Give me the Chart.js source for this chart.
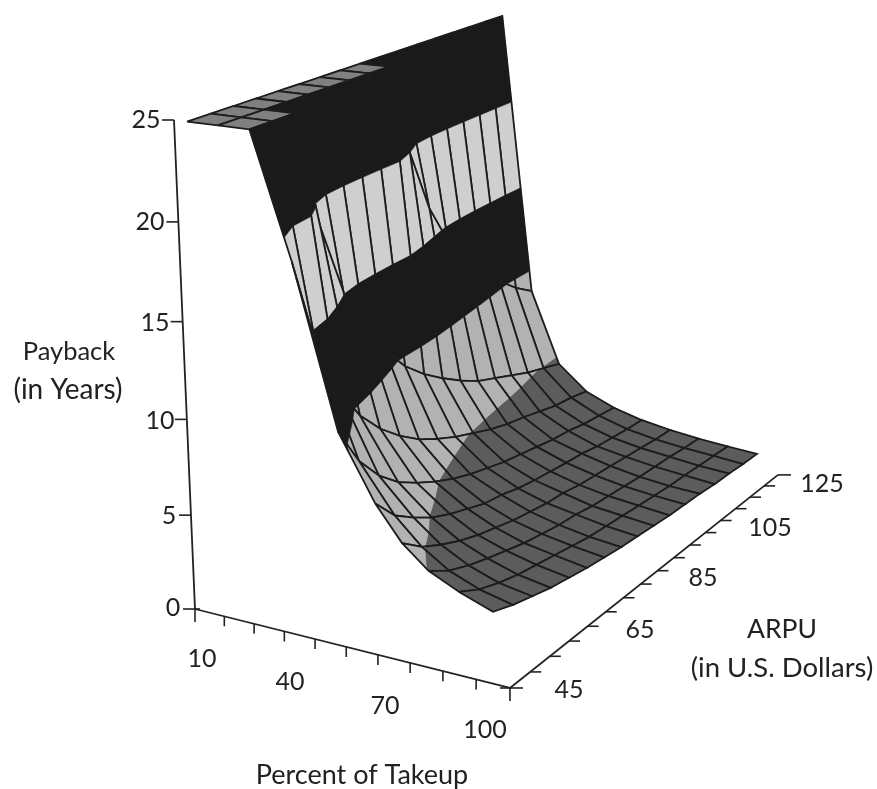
<!DOCTYPE html>
<html>
<head>
<meta charset="utf-8">
<style>html,body{margin:0;padding:0;background:#fff}canvas{display:block}</style>
<script src="https://cdn.jsdelivr.net/npm/chart.js@4/dist/chart.umd.min.js"></script>
</head>
<body>
<canvas id="surface" width="877" height="789"></canvas>
<script>
// Payback surface, values (25 = top of the plot)
const takeups = [10, 20, 30, 40, 50, 60, 70, 80, 90, 100];
// where those takeup lines really land on the ARPU 45 edge of the mesh
const takeupsAt45 = [10, 20, 30, 42, 55, 66, 74, 82, 91, 101];
const arpus = [45, 50, 55, 60, 65, 70, 75, 80, 85, 90, 95, 100, 105, 110, 115, 120, 125];

const payback10 = [25, 25, 25, 25, 25, 25, 25, 25, 25, 25, 25, 25, 25, 25, 25, 25, 25];
const payback20 = [25, 25, 25, 25, 25, 25, 25, 25, 25, 20, 16.5, 14.2, 12.6, 11.4, 10.4, 9.5, 8.8];
const payback30 = [25, 25, 25, 18.9, 15.1, 12.6, 10.9, 9.5, 8.5, 7.7, 7, 6.4, 6, 5.6, 5.2, 4.9, 4.6];
const payback40 = [18.9, 14.2, 11.4, 9.5, 8.2, 7.2, 6.4, 5.8, 5.3, 4.9, 4.5, 4.2, 4, 3.75, 3.5, 3.4, 3.2];
const payback50 = [10.9, 8.8, 7.4, 6.4, 5.7, 5.1, 4.6, 4.2, 3.9, 3.6, 3.4, 3.2, 3, 2.9, 2.7, 2.6, 2.5];
const payback60 = [7.7, 6.4, 5.6, 4.9, 4.4, 4, 3.6, 3.4, 3.1, 2.9, 2.75, 2.6, 2.5, 2.3, 2.2, 2.1, 2.05];
const payback70 = [6, 5.1, 4.5, 4, 3.6, 3.3, 3, 2.8, 2.6, 2.5, 2.3, 2.2, 2.1, 2, 1.9, 1.8, 1.76];
const payback80 = [4.9, 4.2, 3.75, 3.4, 3.1, 2.8, 2.6, 2.4, 2.3, 2.1, 2, 1.9, 1.8, 1.75, 1.7, 1.6, 1.55];
const payback90 = [4.2, 3.6, 3.2, 2.9, 2.7, 2.5, 2.3, 2.1, 2, 1.9, 1.8, 1.7, 1.6, 1.57, 1.5, 1.45, 1.4];
const payback100 = [3.6, 3.2, 2.9, 2.6, 2.4, 2.2, 2.05, 1.9, 1.8, 1.7, 1.6, 1.55, 1.5, 1.4, 1.37, 1.3, 1.27];
const payback = [payback10, payback20, payback30, payback40, payback50, payback60, payback70, payback80, payback90, payback100];

const zTicks = [0, 5, 10, 15, 20, 25];
const takeupTicks = [10, 20, 30, 40, 50, 60, 70, 80, 90, 100, 110];
const arpuTicks = [45, 50, 55, 60, 65, 70, 75, 80, 85, 90, 95, 100, 105, 110, 115, 120, 125];

// colour bands by height, Maple style
const bandEdges = [0, 5, 10, 15, 20, 25];
const bandColors = ['#5c5c5c', '#b2b2b2', '#1a1a1a', '#cfcfcf', '#1a1a1a'];
const capColor = '#808080';
const lineColor = '#1c1c1c';
const axisColor = '#222';
const FONT = 'Lato';

// perspective camera: axis fractions -> page position
function project(u, v, w) {
  const d = 1 - 0.076 * u + 0.2066 * v - 0.05 * w;
  return {
    x: (195 + 276.2 * u + 408.4 * v - 29.7 * w) / d,
    y: (609 + 26.7 * u - 98.8 * v - 495 * w) / d
  };
}
const axisPoint = (t, a, z) => project((t - 10) / 100, (a - 45) / 80, z / 25);

// r is a fractional row number into the takeup arrays
function surfacePoint(r, a, z) {
  const i = Math.min(Math.floor(r), takeups.length - 2);
  const s = r - i;
  const hi = takeups[i] + s * (takeups[i + 1] - takeups[i]);
  const lo = takeupsAt45[i] + s * (takeupsAt45[i + 1] - takeupsAt45[i]);
  const f = (125 - a) / 80;
  const t = hi + (lo - hi) * f * f;
  return project(0.0425 + (t - 10) / 100, 0.98 * (a - 45) / 80, z / 25);
}

// keep the part of a cell that lies between two heights
function clipBand(poly, lo, hi) {
  const cut = (pts, keep, level) => {
    const out = [];
    pts.forEach((p, i) => {
      const q = pts[(i + 1) % pts.length];
      if (keep(p)) out.push(p);
      if (keep(p) !== keep(q)) {
        const s = (level - p.z) / (q.z - p.z);
        out.push({ r: p.r + s * (q.r - p.r), a: p.a + s * (q.a - p.a), z: level });
      }
    });
    return out;
  };
  return cut(cut(poly, p => p.z >= lo, lo), p => p.z <= hi, hi);
}

function toXY(poly) {
  const pts = poly.map(p => surfacePoint(p.r, p.a, p.z));
  pts.push(pts[0]);
  return pts;
}

const datasets = [];
function addLine(data, color, width) {
  datasets.push({ data, showLine: true, fill: false, borderColor: color, borderWidth: width, pointRadius: 0, tension: 0 });
}
function addShape(data, color) {
  datasets.push({ data, showLine: true, fill: 'shape', backgroundColor: color, borderColor: color, borderWidth: 0.5, pointRadius: 0 });
}

// axes first, the surface paints over them
addLine([axisPoint(10, 45, 0), axisPoint(10, 45, 25)], axisColor, 1.8);
addLine([axisPoint(10, 45, 0), axisPoint(110, 45, 0)], axisColor, 1.8);
addLine([axisPoint(110, 45, 0), axisPoint(110, 125, 0)], axisColor, 1.8);
zTicks.forEach(z => {
  const p = axisPoint(10, 45, z);
  addLine([{ x: p.x - 12, y: p.y }, { x: z === 0 ? p.x + 5 : p.x, y: p.y }], axisColor, 1.6);
});
takeupTicks.forEach((t, i) => {
  const p = axisPoint(t, 45, 0);
  const len = (i === 0 || i === takeupTicks.length - 1) ? 13 : 10;
  addLine([p, { x: p.x, y: p.y + len }], axisColor, 1.6);
});
arpuTicks.forEach((a, i) => {
  const p = axisPoint(110, a, 0);
  const len = (i === 0 || i === arpuTicks.length - 1) ? 13 : 11;
  addLine([{ x: i === 0 ? p.x - 10 : p.x, y: p.y }, { x: p.x + len, y: p.y }], axisColor, 1.6);
});

// far cells first: low takeup, high ARPU
for (let i = 0; i < takeups.length - 1; i++) {
  for (let j = arpus.length - 2; j >= 0; j--) {
    const cell = [
      { r: i, a: arpus[j], z: payback[i][j] },
      { r: i, a: arpus[j + 1], z: payback[i][j + 1] },
      { r: i + 1, a: arpus[j + 1], z: payback[i + 1][j + 1] },
      { r: i + 1, a: arpus[j], z: payback[i + 1][j] }
    ];
    if (cell.every(p => p.z >= 25)) {
      addShape(toXY(cell), capColor);
    } else {
      bandColors.forEach((color, b) => {
        const part = clipBand(cell, bandEdges[b], bandEdges[b + 1]);
        if (part.length >= 3) addShape(toXY(part), color);
      });
    }
    addLine(toXY(cell), lineColor, 1.8);
  }
}
datasets.forEach((d, i) => { d.order = -i; });

// [text, x, y, size]
const textLabels = [
  ['25', 146, 120, 25], ['20', 150, 222, 25], ['15', 155, 323, 25], ['10', 160, 421, 25], ['5', 169, 516, 25], ['0', 173, 608, 25],
  ['10', 202, 659, 25], ['40', 290, 682, 25], ['70', 385, 706, 25], ['100', 485, 730, 25],
  ['125', 822, 484, 25], ['105', 770, 528, 25], ['85', 703, 578, 25], ['65', 640, 630, 25], ['45', 569, 690, 25],
  ['Payback', 69, 352, 25.5], ['(in Years)', 68, 390, 28],
  ['ARPU', 782, 629, 26.5], ['(in U.S. Dollars)', 782, 668, 27.5],
  ['Percent of Takeup', 362, 775, 27]
];

const labelPlugin = {
  id: 'labels',
  afterDraw(chart) {
    const ctx = chart.ctx;
    ctx.save();
    ctx.fillStyle = axisColor;
    ctx.textAlign = 'center';
    ctx.textBaseline = 'middle';
    textLabels.forEach(l => {
      ctx.font = l[3] + 'px ' + FONT;
      ctx.fillText(l[0], l[1], l[2]);
    });
    ctx.restore();
  }
};

new Chart(document.getElementById('surface'), {
  type: 'scatter',
  data: { datasets },
  plugins: [labelPlugin],
  options: {
    responsive: false,
    animation: false,
    events: [],
    layout: { padding: 0 },
    plugins: { legend: { display: false }, tooltip: { enabled: false } },
    scales: {
      x: { type: 'linear', min: 0, max: 877, display: false },
      y: { type: 'linear', min: 0, max: 789, reverse: true, display: false }
    }
  }
});
</script>
</body>
</html>
